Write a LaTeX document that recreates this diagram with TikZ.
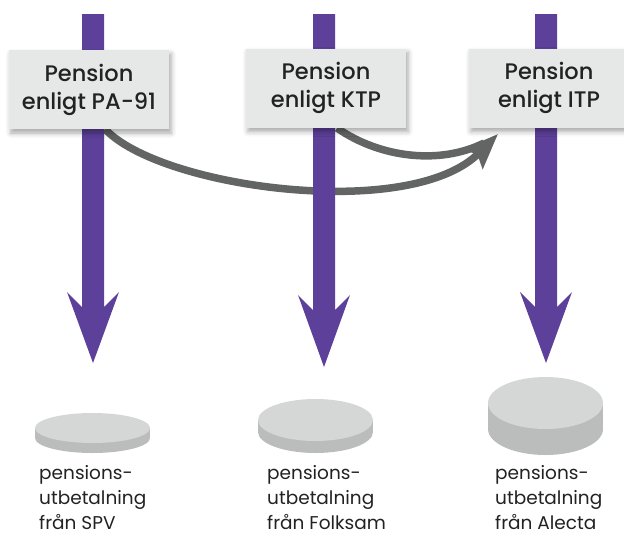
\documentclass[tikz,border=0pt]{standalone}
\usepackage{fontspec}
\setmainfont{Poppins Medium}
\newfontfamily\lblfont{Poppins}
\usetikzlibrary{arrows.meta,shadows.blur}
\definecolor{purp}{RGB}{93,64,153}
\definecolor{boxfill}{RGB}{230,231,231}
\definecolor{grayline}{RGB}{98,101,100}
\definecolor{disktop}{RGB}{213,215,214}
\definecolor{diskside}{RGB}{187,189,188}
\definecolor{textc}{RGB}{34,34,34}
\begin{document}
\begin{tikzpicture}[x=1pt,y=-1pt,
  pbox/.style={fill=boxfill, minimum width=160pt, minimum height=79pt, inner sep=0pt,
    align=center, text=textc, font=\fontsize{22.5}{28}\selectfont,
    blur shadow={shadow xshift=2pt, shadow yshift=-4pt, shadow blur radius=5pt, shadow opacity=35}},
  lbl/.style={anchor=north west, inner sep=0pt, align=left, text=textc, font=\lblfont\fontsize{18.5}{25}\selectfont},
  flow/.style={draw=grayline, line width=7.5pt},
  shaft/.style={fill=purp}]
\useasboundingbox (0,0) rectangle (624,536);
\path (89,89.5) coordinate (c1) (326,88) coordinate (c2) (549,88) coordinate (c3);
% gray connectors
\coordinate (s1) at ([xshift=16pt]c1 |- 0,129);
\coordinate (s2) at ([xshift=11pt]c2 |- 0,128);
\coordinate (t3) at ([shift={(-51pt,-6pt)}]c3 |- 0,128);
\draw[flow, -{Stealth[length=35pt,width=27pt,inset=6pt]}] (s1) .. controls (160,188) and (410,222) .. (t3);
\draw[flow] (s2) .. controls (380,158) and (440,165) .. (484,143);
% purple arrows
\foreach \x/\b/\n/\t in {93/292/307/363, 324/295/310/367, 546/292/307/363}{
  \fill[shaft] (\x-11,14) -- (\x+11,14) -- (\x+11,\n) -- (\x+26,\b) -- (\x,\t) -- (\x-26,\b) -- (\x-11,\n) -- cycle;
}
% boxes
\node[pbox] (b1) at (c1) {Pension\\enligt PA-91};
\node[pbox] (b2) at (c2) {Pension\\enligt KTP};
\node[pbox] (b3) at (c3) {Pension\\enligt ITP};
% disks
\foreach \cx/\yt/\yb/\ry in {92.5/428/438/15, 315.5/420/432/21, 545.5/403/429/26}{
  \fill[diskside] (\cx-57.5,\yt) rectangle (\cx+57.5,\yb);
  \fill[diskside] (\cx,\yb) ellipse [x radius=57.5pt, y radius=\ry pt];
  \fill[disktop] (\cx,\yt) ellipse [x radius=57.5pt, y radius=\ry pt];
}
% labels
\node[lbl] (l1) at (39,465) {pensions-\\utbetalning\\från SPV};
\node[lbl] (l2) at (267,465) {pensions-\\utbetalning\\från Folksam};
\node[lbl] (l3) at (495,465) {pensions-\\utbetalning\\från Alecta};
\end{tikzpicture}
\end{document}
